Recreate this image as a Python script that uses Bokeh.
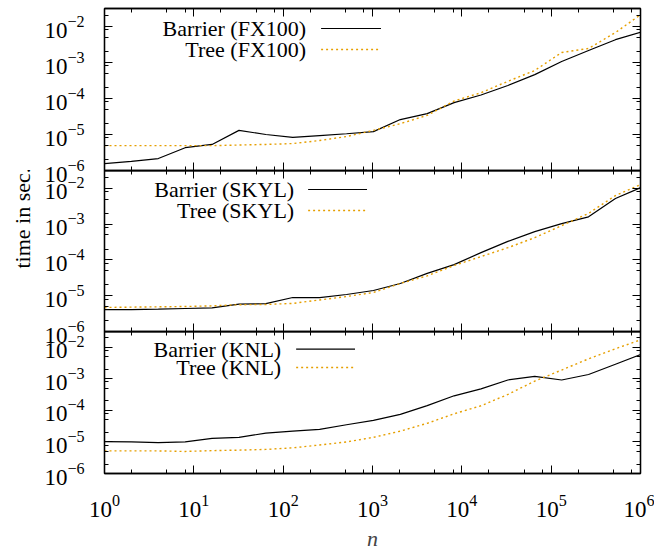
from bokeh.plotting import figure
from bokeh.models import (Range1d, LogAxis, FixedTicker, Label, Arrow, Title,
                          CustomJSTickFormatter)
from bokeh.layouts import column
from bokeh.embed import file_html
from bokeh.resources import INLINE

# ---------------- data ----------------
n_values = [1, 2, 4, 8, 16, 32, 64, 128, 256, 512, 1024, 2048, 4096, 8192,
            16384, 32768, 65536, 131072, 262144, 524288, 1048576]

barrier_fx100 = [1.56e-6, 1.8e-6, 2.15e-6, 4.3e-6, 5.3e-6, 1.3e-5, 1.0e-5, 8.3e-6,
                 9.3e-6, 1.05e-5, 1.2e-5, 2.6e-5, 3.8e-5, 7.7e-5, 1.25e-4, 2.3e-4,
                 4.6e-4, 1.07e-3, 2.15e-3, 4.3e-3, 7.1e-3]
tree_fx100 = [4.9e-6, 4.9e-6, 4.9e-6, 4.9e-6, 4.9e-6, 5.1e-6, 5.3e-6, 5.6e-6,
              6.8e-6, 8.8e-6, 1.3e-5, 2.0e-5, 3.4e-5, 8.5e-5, 1.45e-4, 3.0e-4,
              6.0e-4, 1.9e-3, 2.45e-3, 6.8e-3, 2.3e-2]

barrier_skyl = [4.1e-6, 4.1e-6, 4.2e-6, 4.4e-6, 4.6e-6, 5.8e-6, 6.0e-6, 8.9e-6,
                8.9e-6, 1.08e-5, 1.4e-5, 2.2e-5, 4.2e-5, 7.4e-5, 1.6e-4, 3.3e-4,
                6.2e-4, 1.04e-3, 1.6e-3, 5.2e-3, 1.1e-2]
tree_skyl = [4.7e-6, 4.8e-6, 4.9e-6, 5.0e-6, 5.2e-6, 5.6e-6, 5.7e-6, 6.1e-6,
             7.6e-6, 9.5e-6, 1.23e-5, 2.2e-5, 3.6e-5, 7.0e-5, 1.24e-4, 2.2e-4,
             4.2e-4, 9.1e-4, 2.0e-3, 6.3e-3, 1.35e-2]

barrier_knl = [1.02e-5, 1.0e-5, 9.5e-6, 1.0e-5, 1.3e-5, 1.4e-5, 1.9e-5, 2.2e-5,
               2.5e-5, 3.5e-5, 4.8e-5, 7.5e-5, 1.42e-4, 2.9e-4, 4.8e-4, 9.2e-4,
               1.2e-3, 9.2e-4, 1.37e-3, 2.9e-3, 6.2e-3]
tree_knl = [5.2e-6, 5.2e-6, 5.2e-6, 5.0e-6, 5.3e-6, 5.5e-6, 5.8e-6, 6.5e-6,
            8.0e-6, 1.0e-5, 1.4e-5, 2.2e-5, 3.9e-5, 7.8e-5, 1.4e-4, 3.2e-4,
            8.5e-4, 1.9e-3, 4.3e-3, 9.0e-3, 1.8e-2]

machines = ["FX100", "SKYL", "KNL"]
barrier_series = [barrier_fx100, barrier_skyl, barrier_knl]
tree_series = [tree_fx100, tree_skyl, tree_knl]

x_major = [1e0, 1e1, 1e2, 1e3, 1e4, 1e5, 1e6]
y_major = [1e-6, 1e-5, 1e-4, 1e-3, 1e-2]
minor_mult = [2, 5, 8]

# ---------------- styling / layout ----------------
FONT = "Liberation Serif"
FS = "22px"
TICK_FS = "23px"
TREE_COLOR = "#e69f00"
W = 654
LEFT = 103
FRAME_W = 537
RIGHT = W - LEFT - FRAME_W
TOP = 8
OVER = 14
BOTTOM = 60
X0, X1 = 1.0, 1e6
Y0, Y1 = 1e-6, 10 ** -1.5

frame_h = [162, 161, 162]
frame_bottom_page = [170, 331, 493]   # page y of each frame bottom
legend_text_right = [305, 293, 280]   # page x
legend_rows = [(28, 49), (189, 210), (351, 372)]
legend_sample = [(320, 380), (307, 366), (295, 354)]

x_minor = [m * d for d in x_major[:-1] for m in minor_mult]
y_minor = [m * d for d in y_major for m in minor_mult if m * d <= Y1]


def px_to_x(px):
    return 10 ** ((px - LEFT) / (FRAME_W / 6.0))


def py_to_y(py, i):
    dec = frame_h[i] / 4.5
    return 10 ** (-6 + (frame_bottom_page[i] - py) / dec)


def style_axis(ax, labels):
    ax.major_tick_in = 8
    ax.major_tick_out = 0
    ax.minor_tick_in = 4
    ax.minor_tick_out = 0
    ax.major_tick_line_color = "black"
    ax.minor_tick_line_color = "black"
    ax.axis_line_color = "black"
    ax.axis_line_width = 1.3
    if labels:
        ax.major_label_text_font = FONT
        ax.major_label_text_font_size = TICK_FS
        ax.major_label_text_color = "black"
    else:
        ax.formatter = CustomJSTickFormatter(code="return ''")
        ax.major_label_text_font_size = "1px"
        ax.major_label_standoff = 0


figs = []
for i, name in enumerate(machines):
    last = i == 2
    top_border = TOP if i == 0 else 0
    bottom_border = BOTTOM if last else OVER
    p = figure(width=W, height=top_border + frame_h[i] + bottom_border,
               x_axis_type="log", y_axis_type="log",
               x_range=Range1d(X0, X1), y_range=Range1d(Y0, Y1),
               min_border_left=LEFT, min_border_right=RIGHT,
               min_border_top=top_border, min_border_bottom=bottom_border,
               output_backend="svg", toolbar_location=None)
    if i > 0:
        p.margin = (-OVER, 0, 0, 0)
    p.background_fill_alpha = 0
    p.border_fill_alpha = 0
    p.outline_line_color = "black"
    p.outline_line_width = 1.3
    p.xgrid.visible = False
    p.ygrid.visible = False

    p.xaxis.ticker = FixedTicker(ticks=x_major, minor_ticks=x_minor)
    p.yaxis.ticker = FixedTicker(ticks=y_major, minor_ticks=y_minor)
    style_axis(p.xaxis[0], labels=last)
    style_axis(p.yaxis[0], labels=True)
    p.yaxis.major_label_standoff = 20
    if last:
        p.xaxis.major_label_standoff = 21
        p.xaxis.axis_label = "n"
        p.xaxis.axis_label_text_font = FONT
        p.xaxis.axis_label_text_font_size = FS
        p.xaxis.axis_label_text_font_style = "italic"
        p.xaxis.axis_label_standoff = 6

    top = LogAxis(ticker=FixedTicker(ticks=x_major, minor_ticks=x_minor))
    style_axis(top, labels=False)
    p.add_layout(top, "above")
    right = LogAxis(ticker=FixedTicker(ticks=y_major, minor_ticks=y_minor))
    style_axis(right, labels=False)
    p.add_layout(right, "right")

    p.line(n_values, barrier_series[i], line_color="black", line_width=1.2)
    p.line(n_values, tree_series[i], line_color=TREE_COLOR, line_width=1.4,
           line_dash="2 3")

    # legend (text left of sample, right aligned, like gnuplot)
    labels = ["Barrier (%s)" % name, "Tree (%s)" % name]
    styles = [dict(line_color="black", line_width=1.2, line_dash="solid"),
              dict(line_color=TREE_COLOR, line_width=1.4, line_dash="2 3")]
    for row, (txt, st) in enumerate(zip(labels, styles)):
        yy = py_to_y(legend_rows[i][row], i)
        p.add_layout(Label(x=px_to_x(legend_text_right[i]), y=yy, text=txt,
                           text_align="right", text_baseline="middle",
                           text_font=FONT, text_font_size=FS,
                           text_color="black"))
        p.add_layout(Arrow(end=None, x_start=px_to_x(legend_sample[i][0]),
                           x_end=px_to_x(legend_sample[i][1]),
                           y_start=yy, y_end=yy, **st))

    if i == 1:
        # starts 63px above the frame bottom, reading upwards
        p.add_layout(Title(text="time in sec.", align="left", offset=63,
                           text_font=FONT, text_font_size=FS,
                           text_font_style="normal", text_color="black",
                           standoff=14), "left")
    figs.append(p)

layout = column(*figs, spacing=0)
open("out.html", "w").write(file_html(layout, INLINE))
